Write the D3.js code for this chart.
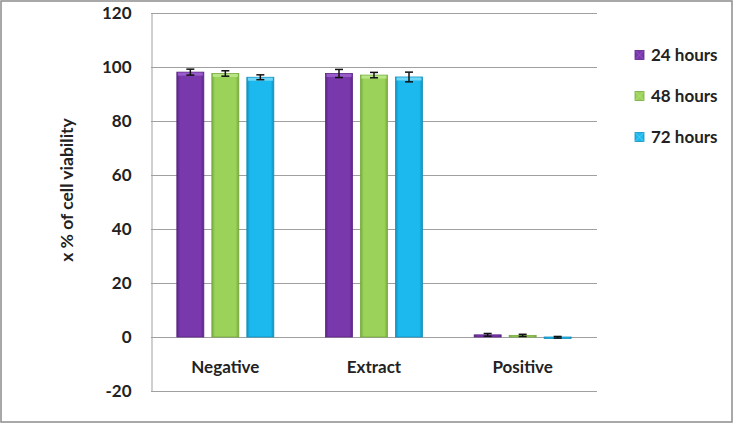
<!DOCTYPE html>
<html><head><meta charset="utf-8">
<script src="https://cdn.jsdelivr.net/npm/d3@7/dist/d3.min.js"></script>
<style>body{margin:0;background:#fff}svg{display:block}</style>
</head><body>
<svg id="c" width="734" height="424"></svg>
<script>
const categories = ["Negative", "Extract", "Positive"];
const seriesNames = ["24 hours", "48 hours", "72 hours"];
const values24 = [98.1, 97.6, 0.8];
const values48 = [97.6, 97.0, 0.6];
const values72 = [96.2, 96.3, -0.1];
const errors24 = [1.1, 1.5, 0.5];
const errors48 = [1.0, 1.0, 0.4];
const errors72 = [0.9, 1.8, 0.3];
const yTicks = [-20, 0, 20, 40, 60, 80, 100, 120];
const yTitle = "x % of cell viability";

(function () {
const series = [
  {name: seriesNames[0], values: values24, errors: errors24, color: "#7a38ad", light: "#9a5ccb", dark: "#5a2585"},
  {name: seriesNames[1], values: values48, errors: errors48, color: "#9bd35a", light: "#b8e585", dark: "#76a93c"},
  {name: seriesNames[2], values: values72, errors: errors72, color: "#1cb9ee", light: "#6fd6f7", dark: "#1290bd"}
];

const svg = d3.select("#c");
const font = "Lato, 'Open Sans', sans-serif";
const fs = 17;

svg.append("rect").attr("x", 1).attr("y", 1).attr("width", 731).attr("height", 421)
  .attr("fill", "#fff").attr("stroke", "#8c8c8c").attr("stroke-width", 1.5);

const pl = 151, pr = 597, pt = 13, pb = 391;
const y = d3.scaleLinear().domain([-20, 120]).range([pb, pt]);
const x0 = d3.scaleBand().domain(categories).range([pl, pr]).paddingInner(0).paddingOuter(0);
const inner = 97, barW = 27, step = 35;

const defs = svg.append("defs");
series.forEach((s, i) => {
  const g = defs.append("linearGradient").attr("id", "g" + i).attr("x1", "0").attr("x2", "1").attr("y1", "0").attr("y2", "0");
  g.append("stop").attr("offset", "0").attr("stop-color", s.dark);
  g.append("stop").attr("offset", "0.12").attr("stop-color", s.color);
  g.append("stop").attr("offset", "0.88").attr("stop-color", s.color);
  g.append("stop").attr("offset", "1").attr("stop-color", s.dark);
});

svg.append("g").selectAll("line").data(yTicks).join("line")
  .attr("x1", pl).attr("x2", pr)
  .attr("y1", d => Math.round(y(d)) + 0.5).attr("y2", d => Math.round(y(d)) + 0.5)
  .attr("stroke", "#a0a0a0").attr("stroke-width", 1);

const yAxis = d3.axisLeft(y).tickValues(yTicks).tickSize(0).tickPadding(20).tickFormat(d => String(d));
const ya = svg.append("g").attr("transform", `translate(${pl + 0.5},0)`).call(yAxis);
ya.select(".domain").attr("stroke", "#a0a0a0");
ya.selectAll("text").attr("font-family", font).attr("font-weight", "bold").attr("font-size", fs).attr("fill", "#222");

series.forEach((s, i) => {
  const g = svg.append("g");
  const xpos = c => x0(c) + (x0.bandwidth() - inner) / 2 + i * step;
  const data = categories.map((c, k) => ({c, v: s.values[k], e: s.errors[k]}));
  g.selectAll("rect.bar").data(data).join("rect").attr("class", "bar")
    .attr("x", d => xpos(d.c)).attr("width", barW)
    .attr("y", d => Math.min(y(d.v), y(0)))
    .attr("height", d => Math.max(Math.abs(y(d.v) - y(0)), 1.5))
    .attr("fill", `url(#g${i})`).attr("stroke", s.dark).attr("stroke-width", 0.8);
  g.selectAll("rect.topb").data(data.filter(d => d.v > 5)).join("rect").attr("class", "topb")
    .attr("x", d => xpos(d.c) + 1).attr("width", barW - 2)
    .attr("y", d => y(d.v) + 0.5).attr("height", 3)
    .attr("fill", s.light);
  const eb = g.selectAll("g.err").data(data).join("g").attr("class", "err");
  eb.append("line").attr("x1", d => xpos(d.c) + barW / 2).attr("x2", d => xpos(d.c) + barW / 2)
    .attr("y1", d => y(d.v + d.e)).attr("y2", d => y(d.v - d.e)).attr("stroke", "#111").attr("stroke-width", 1.5);
  eb.append("line").attr("x1", d => xpos(d.c) + barW / 2 - 4).attr("x2", d => xpos(d.c) + barW / 2 + 4)
    .attr("y1", d => y(d.v + d.e)).attr("y2", d => y(d.v + d.e)).attr("stroke", "#111").attr("stroke-width", 1.5);
  eb.append("line").attr("x1", d => xpos(d.c) + barW / 2 - 4).attr("x2", d => xpos(d.c) + barW / 2 + 4)
    .attr("y1", d => y(d.v - d.e)).attr("y2", d => y(d.v - d.e)).attr("stroke", "#111").attr("stroke-width", 1.5);
});

const xAxis = d3.axisBottom(x0).tickSize(0).tickPadding(0);
const xa = svg.append("g").attr("transform", `translate(0,${y(0) + 30})`).call(xAxis);
xa.select(".domain").remove();
xa.selectAll("text").attr("font-family", font).attr("font-weight", "bold").attr("font-size", fs).attr("fill", "#222").attr("dy", "0.35em");

svg.append("text").attr("transform", `translate(73,190) rotate(-90)`).attr("text-anchor", "middle")
  .attr("font-family", font).attr("font-weight", "bold").attr("font-size", 17.5).attr("fill", "#222").text(yTitle);

const lg = svg.append("g");
series.forEach((s, i) => {
  const cy = 55 + i * 41;
  lg.append("rect").attr("x", 635).attr("y", cy - 4.5).attr("width", 9).attr("height", 9)
    .attr("fill", s.color).attr("stroke", s.dark).attr("stroke-width", 0.8);
  lg.append("path").attr("d", `M635,${cy - 4.5}L644,${cy + 4.5}M644,${cy - 4.5}L635,${cy + 4.5}`)
    .attr("stroke", s.light).attr("stroke-width", 0.7);
  lg.append("text").attr("x", 651).attr("y", cy).attr("dy", "0.35em")
    .attr("font-family", font).attr("font-weight", "bold").attr("font-size", fs).attr("fill", "#222").text(s.name);
});
})();
</script>
</body></html>
